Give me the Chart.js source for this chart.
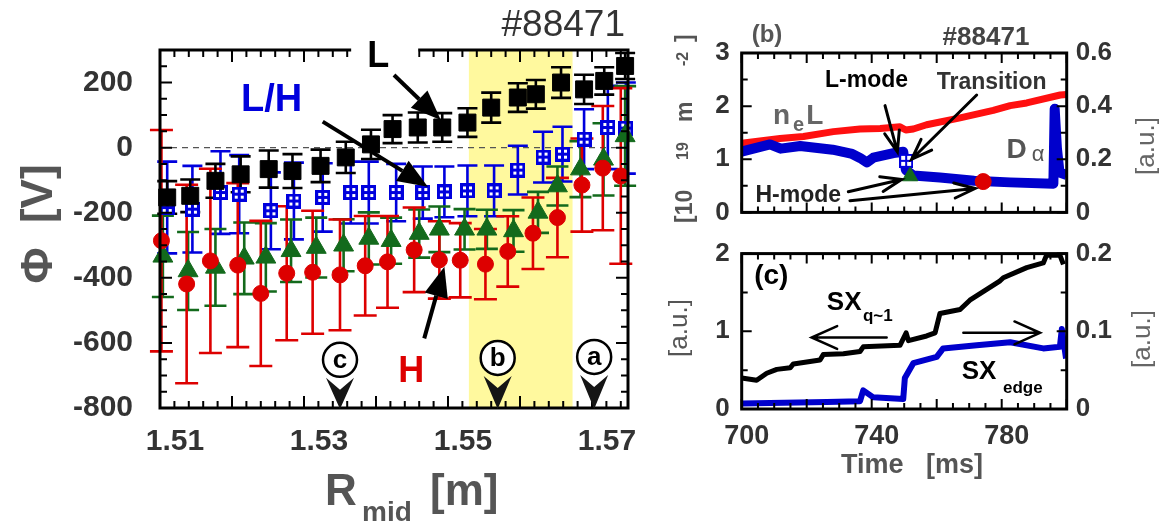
<!DOCTYPE html>
<html>
<head>
<meta charset="utf-8">
<title>#88471 floating potential</title>
<script src="https://cdn.jsdelivr.net/npm/chart.js@4.4.1/dist/chart.umd.min.js"></script>
<style>
  body { margin: 0; background: #fff; }
  #wrap { position: relative; width: 1173px; height: 525px; overflow: hidden; }
  canvas { position: absolute; }
</style>
</head>
<body>
<div id="wrap">
  <canvas id="phiChart" width="660" height="525" style="left:0;top:0"></canvas>
  <canvas id="neChart" width="513" height="240" style="left:660px;top:0"></canvas>
  <canvas id="sxChart" width="513" height="299" style="left:660px;top:226px"></canvas>
</div>
<script>
'use strict';

let FONT = "'Liberation Sans', Arial, Helvetica, sans-serif";
Chart.defaults.font.family = FONT;

let BLUE = '#0000dd';
let RED = '#dd0000';
let GREEN = '#136a1c';

// ---- (a) potential profile ----
let rTicks = [1.51, 1.53, 1.55, 1.57];
let rLabels = ['1.51', '1.53', '1.55', '1.57'];
let phiTicks = [-800, -600, -400, -200, 0, 200];
let phiLabels = ['-800', '-600', '-400', '-200', '0', '200'];

// L-mode, black squares
let lModeR = [1.5110, 1.5142, 1.5177, 1.5212, 1.5251, 1.5284, 1.5323, 1.5358, 1.5393, 1.5423, 1.5458, 1.5492, 1.5527, 1.5560, 1.5597, 1.5622, 1.5657, 1.5689, 1.5717, 1.5746];
let lModePhi = [-153, -148, -102, -82, -66, -72, -56, -30, 10, 57, 62, 62, 77, 123, 154, 164, 200, 179, 205, 251];
let lModeErr = [50, 50, 52, 55, 57, 52, 50, 48, 45, 43, 46, 44, 44, 46, 44, 44, 47, 45, 42, 40];

// L/H transition, blue crossed squares
let lhR = [1.5110, 1.5145, 1.5184, 1.5210, 1.5254, 1.5286, 1.5326, 1.5365, 1.5390, 1.5428, 1.5465, 1.5495, 1.5527, 1.5564, 1.5597, 1.5632, 1.5659, 1.5689, 1.5722, 1.5747];
let lhPhi = [-184, -189, -138, -143, -194, -164, -153, -138, -138, -138, -138, -136, -133, -133, -69, -29, -20, 26, 62, 60];
let lhErr = [141, 133, 127, 120, 118, 118, 105, 95, 95, 88, 80, 78, 78, 78, 75, 78, 84, 92, 128, 140];

// early H-mode, green triangles
let hEarlyR = [1.5104, 1.5139, 1.5177, 1.5217, 1.5247, 1.5282, 1.5317, 1.5355, 1.5390, 1.5421, 1.5460, 1.5488, 1.5523, 1.5554, 1.5591, 1.5625, 1.5652, 1.5684, 1.5716, 1.5746];
let hEarlyPhi = [-334, -379, -368, -340, -337, -317, -307, -300, -279, -286, -264, -251, -251, -251, -256, -199, -118, -66, -36, 36];
let hEarlyErr = [125, 120, 118, 110, 105, 96, 92, 80, 80, 71, 74, 70, 62, 60, 64, 63, 60, 86, 111, 153];

// H-mode, red circles
let hModeR = [1.5102, 1.5137, 1.5170, 1.5208, 1.5240, 1.5276, 1.5312, 1.5350, 1.5385, 1.5416, 1.5453, 1.5488, 1.5517, 1.5552, 1.5583, 1.5618, 1.5652, 1.5686, 1.5715, 1.5740];
let hModePhi = [-286, -419, -348, -361, -448, -386, -383, -391, -363, -351, -314, -345, -346, -358, -319, -263, -215, -115, -63, -87];
let hModeErr = [340, 305, 283, 252, 223, 206, 189, 170, 153, 141, 130, 119, 114, 108, 108, 110, 122, 143, 191, 270];

let bandR = [1.5529, 1.5673];
let probeNames = ['c', 'b', 'a'];
let probeR = [1.5350, 1.5569, 1.5703];
let probePhi = [-652, -646, -643];

// ---- (b) line density and D alpha ----
let timeTicks = [700, 740, 780];
let timeLabels = ['700', '740', '780'];
let neTicks = [0, 1, 2, 3];
let neLabels = ['0', '1', '2', '3'];
let daTicks = [0, 0.2, 0.4, 0.6];
let daLabels = ['0', '0.2', '0.4', '0.6'];

let neTime = [700, 708.7, 711.8, 719, 728.2, 736.4, 742.6, 748.7, 750.5, 752.8, 756.9, 767.2, 777.4, 782.6, 787.7, 798, 800];
let neVal = [1.30, 1.37, 1.39, 1.43, 1.52, 1.57, 1.58, 1.61, 1.55, 1.57, 1.65, 1.78, 1.92, 2.01, 2.06, 2.21, 2.22];
let daTime = [700, 708.7, 712, 718, 728, 734, 736.4, 738.5, 740.5, 746.7, 749.7, 750.5, 752.8, 761, 771.5, 782.6, 795.9, 796.3, 797, 797.8, 800];
let daVal = [0.229, 0.256, 0.240, 0.250, 0.236, 0.220, 0.205, 0.188, 0.206, 0.223, 0.228, 0.160, 0.139, 0.131, 0.119, 0.113, 0.108, 0.390, 0.240, 0.150, 0.141];
let markTime = [750.6, 751.8, 774.3];
let markDa = [0.194, 0.136, 0.116];

// ---- (c) soft X-ray ----
let sxTicks = [0, 1, 2];
let sxLabels = ['0', '1', '2'];
let edgeTicks = [0, 0.1, 0.2];
let edgeLabels = ['0', '0.1', '0.2'];

let sxTime = [700, 704.6, 707.7, 710.8, 714.9, 715.9, 724.1, 725.1, 731.3, 736.4, 737.4, 748.7, 750.6, 751.3, 756.9, 759.5, 761, 767.2, 770.2, 779.5, 780.5, 787.7, 792.8, 793.8, 797.9, 799];
let sxVal = [0.40, 0.37, 0.46, 0.51, 0.53, 0.58, 0.63, 0.70, 0.71, 0.74, 0.80, 0.82, 0.98, 0.88, 0.94, 0.98, 1.23, 1.28, 1.40, 1.65, 1.69, 1.82, 1.88, 1.98, 1.98, 1.86];
let edgeTime = [700, 726.2, 736.4, 737.4, 740.5, 749.7, 750.2, 752.8, 760, 762, 772.3, 782.6, 792.8, 797.9, 798.5, 799.8];
let edgeVal = [0.007, 0.009, 0.010, 0.024, 0.015, 0.013, 0.040, 0.059, 0.067, 0.078, 0.082, 0.086, 0.078, 0.080, 0.103, 0.065];


function toPoints(xs, ys) {
    return xs.map(function (x, i) { return { x: x, y: ys[i] }; });
}

// white box with a cross, the L/H marker
function crossBox(size, lw, color) {
    let c = document.createElement('canvas');
    c.width = size;
    c.height = size;
    let g = c.getContext('2d');
    g.fillStyle = '#fff';
    g.fillRect(0, 0, size, size);
    g.strokeStyle = color;
    g.lineWidth = lw;
    g.strokeRect(lw / 2, lw / 2, size - lw, size - lw);
    g.beginPath();
    g.moveTo(size / 2, 0); g.lineTo(size / 2, size);
    g.moveTo(0, size / 2); g.lineTo(size, size / 2);
    g.stroke();
    return c;
}

function text(ctx, s, x, y, font, color, align, base) {
    ctx.font = font + ' ' + FONT;
    ctx.fillStyle = color;
    ctx.textAlign = align || 'left';
    ctx.textBaseline = base || 'alphabetic';
    ctx.fillText(s, x, y);
    return ctx.measureText(s).width;
}

function vtext(ctx, s, x, y, font, color) {
    ctx.save();
    ctx.translate(x, y);
    ctx.rotate(-Math.PI / 2);
    text(ctx, s, 0, 0, font, color, 'center', 'middle');
    ctx.restore();
}

function solidArrow(ctx, x1, y1, x2, y2, lw, len, half) {
    let ang = Math.atan2(y2 - y1, x2 - x1);
    let bx = x2 - len * Math.cos(ang), by = y2 - len * Math.sin(ang);
    ctx.strokeStyle = '#000';
    ctx.fillStyle = '#000';
    ctx.lineWidth = lw;
    ctx.beginPath(); ctx.moveTo(x1, y1); ctx.lineTo(bx, by); ctx.stroke();
    ctx.beginPath();
    ctx.moveTo(x2, y2);
    ctx.lineTo(bx + half * Math.sin(ang), by - half * Math.cos(ang));
    ctx.lineTo(bx - half * Math.sin(ang), by + half * Math.cos(ang));
    ctx.closePath();
    ctx.fill();
}

function openArrow(ctx, x1, y1, x2, y2, lw, len, spread) {
    let ang = Math.atan2(y2 - y1, x2 - x1);
    ctx.strokeStyle = '#000';
    ctx.lineWidth = lw;
    ctx.lineCap = 'round';
    ctx.beginPath();
    ctx.moveTo(x1, y1); ctx.lineTo(x2, y2);
    ctx.moveTo(x2 - len * Math.cos(ang - spread), y2 - len * Math.sin(ang - spread));
    ctx.lineTo(x2, y2);
    ctx.lineTo(x2 - len * Math.cos(ang + spread), y2 - len * Math.sin(ang + spread));
    ctx.stroke();
}

function tickList(scale, step, major) {
    let list = [];
    let first = Math.ceil(scale.min / step - 1e-6);
    let last = Math.floor(scale.max / step + 1e-6);
    for (let i = first; i <= last; i++) {
        let v = i * step;
        list.push({ v: v, major: Math.abs(v / major - Math.round(v / major)) < 1e-6 });
    }
    return list;
}

// box frame with inward ticks on all four sides
function drawFrame(chart, spec) {
    let ctx = chart.ctx, a = chart.chartArea;
    let xs = chart.scales.x, ls = chart.scales[spec.leftId], rs = chart.scales[spec.rightId];
    ctx.save();
    ctx.strokeStyle = '#000';
    ctx.lineWidth = spec.tickWidth;
    ctx.beginPath();
    tickList(xs, spec.xStep, spec.xMajor).forEach(function (t) {
        let p = xs.getPixelForValue(t.v), len = t.major ? spec.majLen : spec.minLen;
        ctx.moveTo(p, a.bottom); ctx.lineTo(p, a.bottom - len);
        ctx.moveTo(p, a.top); ctx.lineTo(p, a.top + len);
    });
    tickList(ls, spec.leftStep, spec.leftMajor).forEach(function (t) {
        let p = ls.getPixelForValue(t.v), len = t.major ? spec.majLen : spec.minLen;
        ctx.moveTo(a.left, p); ctx.lineTo(a.left + len, p);
    });
    tickList(rs, spec.rightStep, spec.rightMajor).forEach(function (t) {
        let p = rs.getPixelForValue(t.v), len = t.major ? spec.majLen : spec.minLen;
        ctx.moveTo(a.right, p); ctx.lineTo(a.right - len, p);
    });
    ctx.stroke();
    ctx.lineWidth = spec.frameWidth;
    ctx.strokeRect(a.left, a.top, a.right - a.left, a.bottom - a.top);
    ctx.restore();
}

function fixedAxis(values, labels, opts) {
    let axis = {
        type: 'linear',
        afterBuildTicks: function (scale) {
            scale.ticks = values.map(function (v) { return { value: v }; });
        },
        grid: { display: false, drawTicks: false },
        border: { display: false },
        ticks: {
            autoSkip: false,
            maxRotation: 0,
            color: '#333',
            callback: function (v, i) { return labels[i]; }
        }
    };
    Object.keys(opts).forEach(function (k) {
        if (k === 'ticks') Object.assign(axis.ticks, opts.ticks);
        else axis[k] = opts[k];
    });
    return axis;
}

// ---- panel (a) ----
let panelA = {
    id: 'panelA',
    beforeDatasetsDraw: function (chart) {
        let ctx = chart.ctx, a = chart.chartArea;
        let X = chart.scales.x, Y = chart.scales.y;
        ctx.save();
        ctx.fillStyle = '#fff99e';
        ctx.fillRect(X.getPixelForValue(bandR[0]), a.top, X.getPixelForValue(bandR[1]) - X.getPixelForValue(bandR[0]), a.bottom - a.top);
        ctx.strokeStyle = '#555';
        ctx.lineWidth = 1.3;
        ctx.setLineDash([6, 5]);
        ctx.beginPath();
        ctx.moveTo(a.left, Y.getPixelForValue(0));
        ctx.lineTo(a.right, Y.getPixelForValue(0));
        ctx.stroke();
        ctx.setLineDash([]);
        // error bars
        chart.data.datasets.forEach(function (ds) {
            ctx.strokeStyle = ds.errColor;
            ctx.lineWidth = 2.6;
            ctx.beginPath();
            ds.data.forEach(function (p, i) {
                let px = X.getPixelForValue(p.x);
                let top = Y.getPixelForValue(p.y + ds.errors[i]);
                let bot = Y.getPixelForValue(p.y - ds.errors[i]);
                ctx.moveTo(px, top); ctx.lineTo(px, bot);
                ctx.moveTo(px - ds.cap, top); ctx.lineTo(px + ds.cap, top);
                ctx.moveTo(px - ds.cap, bot); ctx.lineTo(px + ds.cap, bot);
            });
            ctx.stroke();
        });
        ctx.restore();
    },
    afterDraw: function (chart) {
        drawFrame(chart, {
            leftId: 'y', rightId: 'y',
            xStep: 0.002, xMajor: 0.01, leftStep: 50, leftMajor: 200, rightStep: 50, rightMajor: 200,
            majLen: 12, minLen: 7, tickWidth: 2, frameWidth: 3
        });
        let ctx = chart.ctx, a = chart.chartArea;
        let X = function (v) { return chart.scales.x.getPixelForValue(v); };
        let Y = function (v) { return chart.scales.y.getPixelForValue(v); };
        ctx.save();
        // the L label breaks the top frame
        let lx = X(1.5403), ly = Y(278);
        ctx.fillStyle = '#fff';
        ctx.fillRect(lx - 27, ly - 20, 67, 30);
        text(ctx, 'L', lx, ly, 'bold 36px', '#000', 'center', 'middle');
        solidArrow(ctx, X(1.5425), Y(223), X(1.5490), Y(85), 4, 30, 12);
        text(ctx, 'L/H', X(1.5255), Y(146), 'bold 38px', BLUE, 'center', 'middle');
        solidArrow(ctx, X(1.5326), Y(80), X(1.5472), Y(-120), 4, 30, 12);
        text(ctx, 'H', X(1.5449), Y(-691), 'bold 36px', RED, 'center', 'middle');
        solidArrow(ctx, X(1.5467), Y(-586), X(1.5495), Y(-366), 4, 30, 12);

        probeR.forEach(function (r, i) {
            let cx = X(r), cy = Y(probePhi[i]), rad = 17;
            ctx.fillStyle = '#fff';
            ctx.strokeStyle = '#000';
            ctx.lineWidth = 2.5;
            ctx.beginPath();
            ctx.arc(cx, cy, rad, 0, Math.PI * 2);
            ctx.fill();
            ctx.stroke();
            text(ctx, probeNames[i], cx, cy + 1, 'bold 26px', '#000', 'center', 'middle');
            ctx.fillStyle = '#151515';
            ctx.beginPath();
            ctx.moveTo(cx - 14, cy + rad + 1);
            ctx.lineTo(cx, cy + rad + 13);
            ctx.lineTo(cx + 14, cy + rad + 1);
            ctx.lineTo(cx, a.bottom + 1);
            ctx.closePath();
            ctx.fill();
        });

        text(ctx, '#88471', 625, 36, '37px', '#333', 'right', 'alphabetic');
        vtext(ctx, '\u03A6  [V]', 40, 224, 'bold 44px', '#555');
        text(ctx, 'R', 325, 505, 'bold 44px', '#555');
        text(ctx, 'mid', 362, 521, 'bold 28px', '#555');
        text(ctx, '[m]', 430, 505, 'bold 44px', '#555');
        ctx.restore();
    }
};

new Chart(document.getElementById('phiChart'), {
    type: 'scatter',
    data: {
        datasets: [
            { data: toPoints(lhR, lhPhi), errors: lhErr, errColor: BLUE, cap: 10, pointStyle: crossBox(15, 3, BLUE), pointRadius: 8, order: 4, clip: false },
            { data: toPoints(hEarlyR, hEarlyPhi), errors: hEarlyErr, errColor: GREEN, cap: 11, pointStyle: 'triangle', pointRadius: 11.5, backgroundColor: GREEN, borderColor: GREEN, order: 3, clip: false },
            { data: toPoints(hModeR, hModePhi), errors: hModeErr, errColor: RED, cap: 11.5, pointStyle: 'circle', pointRadius: 8, backgroundColor: RED, borderColor: RED, order: 2, clip: false },
            { data: toPoints(lModeR, lModePhi), errors: lModeErr, errColor: '#000', cap: 10, pointStyle: 'rect', pointRadius: 12, backgroundColor: '#000', borderColor: '#000', order: 1, clip: false }
        ]
    },
    options: {
        responsive: false,
        animation: false,
        events: [],
        layout: { padding: { left: 0, right: 32, top: 50, bottom: 0 } },
        plugins: { legend: { display: false }, tooltip: { enabled: false } },
        scales: {
            x: fixedAxis(rTicks, rLabels, {
                min: 1.51, max: 1.575,
                afterFit: function (s) { s.height = 117; },
                ticks: { padding: 16, labelOffset: 15, font: { size: 30, weight: 'bold' } }
            }),
            y: fixedAxis(phiTicks, phiLabels, {
                min: -800, max: 300,
                afterFit: function (s) { s.width = 160; },
                ticks: { padding: 27, font: { size: 30, weight: 'bold' } }
            })
        }
    },
    plugins: [panelA]
});

// ---- panel (b) ----
let panelB = {
    id: 'panelB',
    afterDraw: function (chart) {
        drawFrame(chart, {
            leftId: 'y', rightId: 'yR',
            xStep: 5, xMajor: 20, leftStep: 0.5, leftMajor: 1, rightStep: 0.1, rightMajor: 0.2,
            majLen: 10, minLen: 6, tickWidth: 2, frameWidth: 3
        });
        let ctx = chart.ctx;
        let X = function (v) { return chart.scales.x.getPixelForValue(v); };
        let Y = function (v) { return chart.scales.y.getPixelForValue(v); };
        ctx.save();
        text(ctx, '(b)', 107, 35, 'bold 24px', '#555', 'center', 'middle');
        text(ctx, '#88471', 326, 38, 'bold 26px', '#444', 'center', 'middle');

        let nx = X(709.6), ny = Y(1.66);
        nx += text(ctx, 'n', nx, ny, 'bold 28px', '#666') + 3;
        nx += text(ctx, 'e', nx, ny + 7, 'bold 20px', '#666') + 2;
        text(ctx, 'L', nx, ny, 'bold 28px', '#666');

        let dx = X(781.5);
        dx += text(ctx, 'D', dx, Y(1.03), 'bold 28px', '#555') + 5;
        text(ctx, '\u03B1', dx, Y(0.97), '22px', '#555');

        text(ctx, 'L-mode', X(738.4), Y(2.48), 'bold 23px', '#000', 'center', 'middle');
        text(ctx, 'Transition', X(776.9), Y(2.44), 'bold 23px', '#333', 'center', 'middle');
        text(ctx, 'H-mode', X(717.4), Y(0.31), 'bold 23px', '#222', 'center', 'middle');
        openArrow(ctx, X(744.1), Y(2.01), X(747.9), Y(1.14), 3, 22, 0.35);
        openArrow(ctx, X(772.3), Y(2.21), X(752.3), Y(1.00), 3, 22, 0.35);
        openArrow(ctx, X(732.8), Y(0.39), X(749.2), Y(0.62), 3, 22, 0.35);
        openArrow(ctx, X(733.3), Y(0.22), X(771.8), Y(0.45), 3, 22, 0.35);

        // axis titles
        ctx.save();
        ctx.translate(32, 226);
        ctx.rotate(-Math.PI / 2);
        text(ctx, '[10', 3, 0, 'bold 23px', '#555');
        text(ctx, '19', 66, -4, 'bold 16px', '#555');
        text(ctx, 'm', 104, 0, 'bold 23px', '#555');
        text(ctx, '-2', 160, -4, 'bold 16px', '#555');
        text(ctx, ']', 184, 0, 'bold 23px', '#555');
        ctx.restore();
        vtext(ctx, '[a.u.]', 487, 146, '26px', '#666');
        ctx.restore();
    }
};

new Chart(document.getElementById('neChart'), {
    type: 'line',
    data: {
        datasets: [
            { data: toPoints(markTime, markDa), yAxisID: 'yR', showLine: false, order: 0,
              pointStyle: [crossBox(14, 2, BLUE), 'triangle', 'circle'],
              pointRadius: [7, 9, 8],
              pointBackgroundColor: ['#fff', GREEN, RED],
              pointBorderColor: [BLUE, GREEN, RED] },
            { data: toPoints(daTime, daVal), yAxisID: 'yR', borderColor: '#0000cc', borderWidth: 10, pointRadius: 0, borderJoinStyle: 'round', order: 1 },
            { data: toPoints(neTime, neVal), yAxisID: 'y', borderColor: '#ff1010', borderWidth: 7, pointRadius: 0, borderJoinStyle: 'round', order: 2 }
        ]
    },
    options: {
        responsive: false,
        animation: false,
        events: [],
        layout: { padding: { left: 0, right: 0, top: 53, bottom: 14 } },
        plugins: { legend: { display: false }, tooltip: { enabled: false } },
        scales: {
            x: { type: 'linear', min: 700, max: 800, display: false },
            y: fixedAxis(neTicks, neLabels, {
                min: 0, max: 3,
                afterFit: function (s) { s.width = 81.7; },
                ticks: { padding: 12, font: { size: 26, weight: 'bold' } }
            }),
            yR: fixedAxis(daTicks, daLabels, {
                position: 'right', min: 0, max: 0.6,
                afterFit: function (s) { s.width = 106.3; },
                ticks: { padding: 9, font: { size: 26, weight: 'bold' } }
            })
        }
    },
    plugins: [panelB]
});

// ---- panel (c) ----
let panelC = {
    id: 'panelC',
    afterDraw: function (chart) {
        drawFrame(chart, {
            leftId: 'y', rightId: 'yR',
            xStep: 5, xMajor: 20, leftStep: 0.5, leftMajor: 1, rightStep: 0.05, rightMajor: 0.1,
            majLen: 10, minLen: 6, tickWidth: 2, frameWidth: 3
        });
        let ctx = chart.ctx;
        let X = function (v) { return chart.scales.x.getPixelForValue(v); };
        let Y = function (v) { return chart.scales.y.getPixelForValue(v); };
        ctx.save();
        text(ctx, '(c)', X(709.1), Y(1.71), 'bold 28px', '#000', 'center', 'middle');
        text(ctx, 'SX', X(726.2), Y(1.27), 'bold 26px', '#000');
        text(ctx, 'q~1', X(737.3), Y(1.13), 'bold 17px', '#000');
        text(ctx, 'SX', X(767.7), Y(0.39), 'bold 26px', '#000');
        text(ctx, 'edge', X(780.4), Y(0.21), 'bold 17px', '#000');
        openArrow(ctx, X(744.6), Y(0.92), X(721.5), Y(0.92), 2.5, 28, 0.42);
        openArrow(ctx, X(768.2), Y(0.98), X(791.8), Y(0.98), 2.5, 28, 0.42);

        vtext(ctx, '[a.u.]', 20, 102, '26px', '#555');
        vtext(ctx, '[a.u.]', 483, 113, '26px', '#666');
        text(ctx, 'Time   [ms]', 252, 240, 'bold 27px', '#555', 'center', 'middle');
        ctx.restore();
    }
};

new Chart(document.getElementById('sxChart'), {
    type: 'line',
    data: {
        datasets: [
            { data: toPoints(sxTime, sxVal), yAxisID: 'y', borderColor: '#000', borderWidth: 5, pointRadius: 0, borderJoinStyle: 'round' },
            { data: toPoints(edgeTime, edgeVal), yAxisID: 'yR', borderColor: '#0000cc', borderWidth: 6, pointRadius: 0, borderJoinStyle: 'round' }
        ]
    },
    options: {
        responsive: false,
        animation: false,
        events: [],
        layout: { padding: { left: 0, right: 0, top: 22.5, bottom: 0 } },
        plugins: { legend: { display: false }, tooltip: { enabled: false } },
        scales: {
            x: fixedAxis(timeTicks, timeLabels, {
                min: 700, max: 800,
                afterFit: function (s) { s.height = 116; },
                ticks: { padding: 11, labelOffset: 5, font: { size: 27, weight: 'bold' } }
            }),
            y: fixedAxis(sxTicks, sxLabels, {
                min: 0, max: 2,
                afterFit: function (s) { s.width = 81.7; },
                ticks: { padding: 12, font: { size: 26, weight: 'bold' } }
            }),
            yR: fixedAxis(edgeTicks, edgeLabels, {
                position: 'right', min: 0, max: 0.2,
                afterFit: function (s) { s.width = 106.3; },
                ticks: { padding: 9, font: { size: 26, weight: 'bold' } }
            })
        }
    },
    plugins: [panelC]
});
</script>
</body>
</html>
